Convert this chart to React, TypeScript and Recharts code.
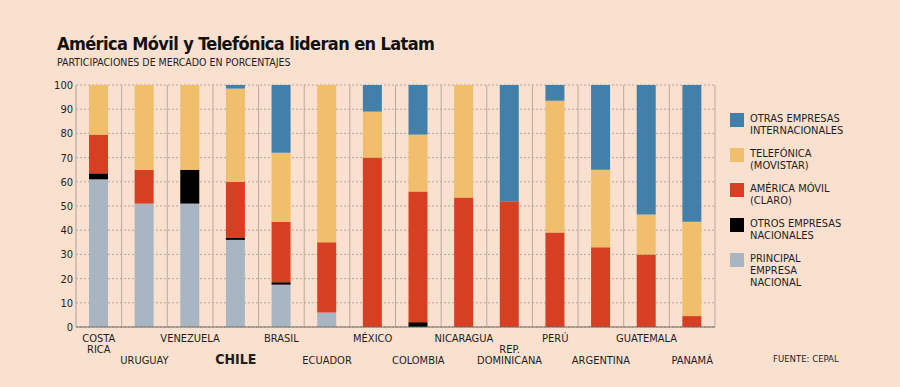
import { BarChart, Bar, XAxis, YAxis, CartesianGrid } from 'recharts';

const categories = [
  'COSTA RICA', 'URUGUAY', 'VENEZUELA', 'CHILE', 'BRASIL', 'ECUADOR', 'MÉXICO',
  'COLOMBIA', 'NICARAGUA', 'REP. DOMINICANA', 'PERÚ', 'ARGENTINA', 'GUATEMALA', 'PANAMÁ',
];
const tickLines: string[][] = [
  ['COSTA', 'RICA'], ['URUGUAY'], ['VENEZUELA'], ['CHILE'], ['BRASIL'], ['ECUADOR'], ['MÉXICO'],
  ['COLOMBIA'], ['NICARAGUA'], ['REP.', 'DOMINICANA'], ['PERÚ'], ['ARGENTINA'], ['GUATEMALA'], ['PANAMÁ'],
];

const principal = [61, 51, 51, 36, 17.5, 6, 0, 0, 0, 0, 0, 0, 0, 0];
const otrosNacionales = [2.5, 0, 14, 1, 1, 0, 0, 2, 0, 0, 0, 0, 0, 0];
const americaMovil = [16, 14, 0, 23, 25, 29, 70, 54, 53.5, 52, 39, 33, 30, 4.5];
const telefonica = [20.5, 35, 35, 38.5, 28.5, 65, 19, 23.5, 46.5, 0, 54.5, 32, 16.5, 39];
const otrasInternacionales = [0, 0, 0, 1.5, 28, 0, 11, 20.5, 0, 48, 6.5, 35, 53.5, 56.5];

const yTicks = [0, 10, 20, 30, 40, 50, 60, 70, 80, 90, 100];

// legend, top to bottom
const legendKeys = ['otrasInt', 'telefonica', 'americaMovil', 'otrosNac', 'principal'] as const;
const legendLabels: Record<string, string[]> = {
  otrasInt: ['OTRAS EMPRESAS', 'INTERNACIONALES'],
  telefonica: ['TELEFÓNICA', '(MOVISTAR)'],
  americaMovil: ['AMÉRICA MÓVIL', '(CLARO)'],
  otrosNac: ['OTROS EMPRESAS', 'NACIONALES'],
  principal: ['PRINCIPAL', 'EMPRESA', 'NACIONAL'],
};

const COLORS: Record<string, string> = {
  principal: '#a8b6c3',
  otrosNac: '#000000',
  americaMovil: '#d73f22',
  telefonica: '#f1be6c',
  otrasInt: '#4280aa',
};

const BG = '#f9e0cf';
const FONT = '"DejaVu Sans Condensed", "DejaVu Sans", sans-serif';
const INK = '#1e1e1e';

const data = categories.map((name, i) => ({
  name,
  principal: principal[i],
  otrosNac: otrosNacionales[i],
  americaMovil: americaMovil[i],
  telefonica: telefonica[i],
  otrasInt: otrasInternacionales[i],
}));

function CountryTick({ x, y, payload, index }: any) {
  const lines = tickLines[index] ?? [payload.value];
  const isChile = payload.value === 'CHILE';
  const secondRow = index % 2 === 1;
  // row 1 hangs under the axis, row 2 is lower and bottom-aligned
  const lastBaseline = secondRow ? y + 29 : y + 7 + (lines.length - 1) * 11;
  return (
    <text
      x={x}
      textAnchor="middle"
      fontFamily={FONT}
      fontSize={isChile ? 14 : 11}
      fontWeight={isChile ? 'bold' : 'normal'}
      fill={INK}
    >
      {lines.map((line, j) => (
        <tspan key={j} x={x} y={lastBaseline - (lines.length - 1 - j) * 11}>
          {line}
        </tspan>
      ))}
    </text>
  );
}

function LegendBox() {
  return (
    <div style={{ position: 'absolute', left: 730, top: 113, fontFamily: FONT, fontSize: 11, color: INK }}>
      {legendKeys.map((k) => (
        <div key={k} style={{ display: 'flex', alignItems: 'flex-start', height: 35 }}>
          <div style={{ width: 14, height: 14, background: COLORS[k], marginRight: 6 }} />
          <div style={{ lineHeight: '12px' }}>
            {legendLabels[k].map((l) => (
              <div key={l}>{l}</div>
            ))}
          </div>
        </div>
      ))}
    </div>
  );
}

export default function App() {
  const bandBoundaries = ({ offset, xAxis }: any) => {
    const left = offset?.left ?? xAxis.x;
    const w = offset?.width ?? xAxis.width;
    const n = categories.length;
    const pts: number[] = [];
    for (let i = 1; i <= n; i++) pts.push(left + (w * i) / n);
    return pts;
  };

  return (
    <div style={{ position: 'absolute', left: 0, top: 0, width: 900, height: 387, background: BG, overflow: 'hidden' }}>
      <div style={{ position: 'absolute', left: 57, top: 34, fontFamily: FONT, fontWeight: 'bold', fontSize: 18, letterSpacing: -0.6, lineHeight: '19px', color: '#111', whiteSpace: 'nowrap' }}>
        América Móvil y Telefónica lideran en Latam
      </div>
      <div style={{ position: 'absolute', left: 57, top: 57, fontFamily: FONT, fontSize: 10.5, lineHeight: '11px', color: INK, whiteSpace: 'nowrap' }}>
        PARTICIPACIONES DE MERCADO EN PORCENTAJES
      </div>
      <div style={{ position: 'absolute', left: 773, top: 354, fontFamily: FONT, fontSize: 9.5, lineHeight: '10px', color: INK, whiteSpace: 'nowrap' }}>
        FUENTE: CEPAL
      </div>
      <LegendBox />
      <BarChart width={900} height={387} data={data} margin={{ top: 85, right: 185, bottom: 10, left: 0 }} barSize={19}>
        <CartesianGrid vertical={false} stroke="#b3a69c" strokeDasharray="2 2" />
        <CartesianGrid horizontal={false} stroke="#b7aaa0" verticalCoordinatesGenerator={bandBoundaries} />
        <XAxis
          dataKey="name"
          height={50}
          interval={0}
          tickLine={false}
          axisLine={{ stroke: '#6a6a6a' }}
          tick={<CountryTick />}
        />
        <YAxis
          width={76}
          domain={[0, 100]}
          ticks={yTicks}
          interval={0}
          tickLine={false}
          tickSize={2}
          tickMargin={1}
          axisLine={{ stroke: '#a9a09a' }}
          tick={{ fill: INK, fontSize: 11, fontFamily: FONT }}
        />
        <Bar dataKey="principal" stackId="a" fill={COLORS.principal} isAnimationActive={false} />
        <Bar dataKey="otrosNac" stackId="a" fill={COLORS.otrosNac} isAnimationActive={false} />
        <Bar dataKey="americaMovil" stackId="a" fill={COLORS.americaMovil} isAnimationActive={false} />
        <Bar dataKey="telefonica" stackId="a" fill={COLORS.telefonica} isAnimationActive={false} />
        <Bar dataKey="otrasInt" stackId="a" fill={COLORS.otrasInt} isAnimationActive={false} />
      </BarChart>
    </div>
  );
}
